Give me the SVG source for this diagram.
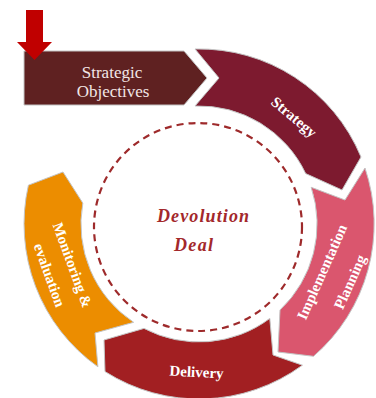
<svg xmlns="http://www.w3.org/2000/svg" width="376" height="398" viewBox="0 0 376 398">
<style>
.seg{stroke:#c4c4c4;stroke-width:1;stroke-linejoin:miter}
.lbl{font-family:"Liberation Serif","Times New Roman",serif;font-weight:bold;font-size:15px;fill:#ffffff;text-anchor:middle}
.obj{font-family:"Liberation Serif","Times New Roman",serif;font-size:17px;fill:#f2e6e6;text-anchor:middle}
.ctr{font-family:"Liberation Serif","Times New Roman",serif;font-weight:bold;font-style:italic;font-size:18px;fill:#a3282b}
</style>
<rect width="376" height="398" fill="#ffffff"/>
<g id="center">
<circle cx="198" cy="227" r="104" fill="none" stroke="#9e2a2b" stroke-width="2.2" stroke-dasharray="7 5"/>
<text class="ctr" x="157" y="222" textLength="92" lengthAdjust="spacing">Devolution</text>
<text class="ctr" x="174" y="251" textLength="39" lengthAdjust="spacing">Deal</text>
</g>
<g id="objectives">
<polygon class="seg" points="24,51 184,51 207,78 184,105 24,105" fill="#5f2121"/>
<text class="obj" x="112" y="78">Strategic</text>
<text class="obj" x="113" y="97">Objectives</text>
</g>
<g id="strategy">
<path class="seg" fill="#7d1a2f" d="M195,49 A175,175 0 0 1 361,157 L342,190 L305.7,173.6 A118,118 0 0 0 195,106 L219,78 Z"/>
<text class="lbl" transform="translate(294,117) rotate(40)" y="5">Strategy</text>
</g>
<g id="implementation">
<path class="seg" fill="#da566e" d="M365,168 A175,175 0 0 1 313.5,356.3 L278,352 L280,310 A118,118 0 0 0 311.2,187.3 L345,200 Z"/>
<text class="lbl" transform="translate(322,272) rotate(-66)" y="5">Implementation</text>
<text class="lbl" transform="translate(350,282) rotate(-66)" y="5">Planning</text>
</g>
<g id="delivery">
<path class="seg" fill="#a21f22" d="M302.4,365.2 A175,175 0 0 1 105,371.6 L104,340 L144,328.4 A118,118 0 0 0 269.8,318.4 L273,355 Z"/>
<text class="lbl" transform="translate(196.5,372) rotate(3)" y="5">Delivery</text>
</g>
<g id="monitoring">
<path class="seg" fill="#ec8d00" d="M97.9,366.8 A175,175 0 0 1 28.4,185.2 L63,172 L82.8,203.1 A118,118 0 0 0 133.6,322.3 L95,333 Z"/>
<text class="lbl" transform="translate(72.5,265) rotate(70)" y="5">Monitoring &amp;</text>
<text class="lbl" transform="translate(49.5,275) rotate(70)" y="5">evaluation</text>
</g>
<g id="connectors">
<polygon points="26,10 43,10 43,42 52,42 34.5,60 17,42 26,42" fill="#c00000"/>
</g>
</svg>
